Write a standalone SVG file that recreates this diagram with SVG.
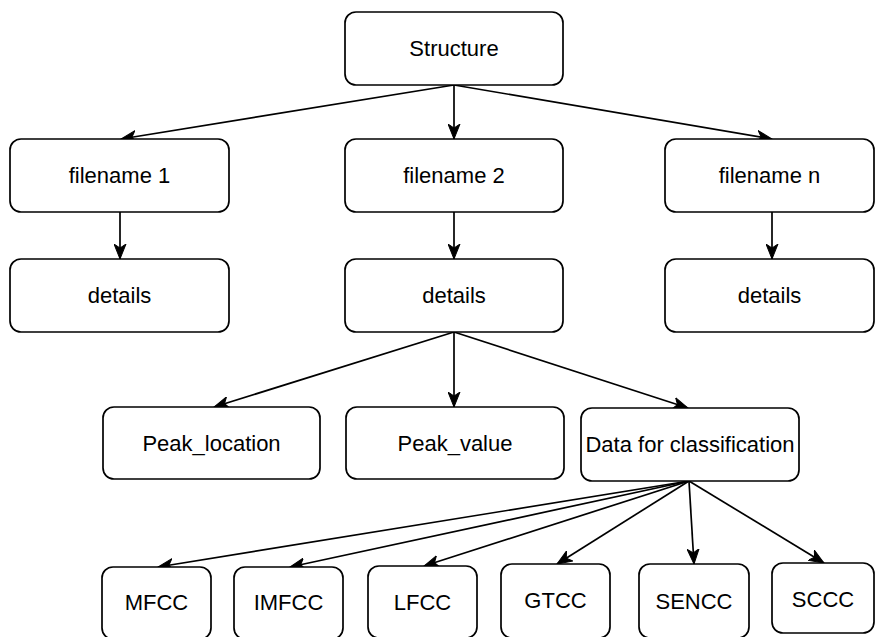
<svg xmlns="http://www.w3.org/2000/svg" width="875" height="637" viewBox="0 0 875 637">
<style>
.box{fill:#fff;stroke:#000;stroke-width:1.7}
.lbl{font-family:"Liberation Sans",Arial,sans-serif;font-size:22px;fill:#000;text-anchor:middle;dominant-baseline:central}
.edge{fill:none;stroke:#000;stroke-width:1.7;marker-end:url(#arr)}
</style>
<defs>
<marker id="arr" markerUnits="userSpaceOnUse" markerWidth="16" markerHeight="13" refX="15" refY="6.5" orient="auto">
<path d="M0,0.5 L15,6.5 L0,12.5 L4,6.5 Z" fill="#000" stroke="#000" stroke-width="1"/>
</marker>
</defs>
<rect width="875" height="637" fill="#fff"/>
<g id="connectors">
<line class="edge" x1="454" y1="85" x2="121" y2="139"/>
<line class="edge" x1="454" y1="85" x2="454" y2="139"/>
<line class="edge" x1="454" y1="85" x2="772" y2="139"/>
<line class="edge" x1="120" y1="212" x2="120" y2="259"/>
<line class="edge" x1="454" y1="212" x2="454" y2="259"/>
<line class="edge" x1="772" y1="212" x2="772" y2="259"/>
<line class="edge" x1="454" y1="332" x2="214" y2="407"/>
<line class="edge" x1="454" y1="332" x2="454" y2="407"/>
<line class="edge" x1="454" y1="332" x2="688" y2="408"/>
<line class="edge" x1="689" y1="481" x2="158" y2="567"/>
<line class="edge" x1="689" y1="481" x2="290" y2="567"/>
<line class="edge" x1="689" y1="481" x2="424" y2="566"/>
<line class="edge" x1="689" y1="481" x2="557" y2="564"/>
<line class="edge" x1="689" y1="481" x2="694" y2="564"/>
<line class="edge" x1="689" y1="481" x2="824" y2="563"/>
</g>
<g id="structure"><rect class="box" x="345" y="12" width="218" height="73" rx="11"/><text class="lbl" x="454" y="48.5">Structure</text></g>
<g id="filename1"><rect class="box" x="10" y="139" width="219" height="73" rx="11"/><text class="lbl" x="119.5" y="175.5">filename 1</text></g>
<g id="filename2"><rect class="box" x="345" y="139" width="218" height="73" rx="11"/><text class="lbl" x="454" y="175.5">filename 2</text></g>
<g id="filenamen"><rect class="box" x="665" y="139" width="209" height="73" rx="11"/><text class="lbl" x="769.5" y="175.5">filename n</text></g>
<g id="details1"><rect class="box" x="10" y="259" width="219" height="73" rx="11"/><text class="lbl" x="119.5" y="295.5">details</text></g>
<g id="details2"><rect class="box" x="345" y="259" width="218" height="73" rx="11"/><text class="lbl" x="454" y="295.5">details</text></g>
<g id="detailsn"><rect class="box" x="665" y="259" width="209" height="73" rx="11"/><text class="lbl" x="769.5" y="295.5">details</text></g>
<g id="peak_location"><rect class="box" x="103" y="407" width="217" height="72" rx="11"/><text class="lbl" x="211.5" y="443">Peak_location</text></g>
<g id="peak_value"><rect class="box" x="346" y="407" width="218" height="72" rx="11"/><text class="lbl" x="455" y="443">Peak_value</text></g>
<g id="data"><rect class="box" x="581" y="408" width="218" height="73" rx="11"/><text class="lbl" x="690" y="444.5">Data for classification</text></g>
<g id="mfcc"><rect class="box" x="102" y="567" width="109" height="72" rx="11"/><text class="lbl" x="156.5" y="602.5">MFCC</text></g>
<g id="imfcc"><rect class="box" x="234" y="567" width="109" height="72" rx="11"/><text class="lbl" x="288.5" y="602.5">IMFCC</text></g>
<g id="lfcc"><rect class="box" x="368" y="566" width="109" height="72" rx="11"/><text class="lbl" x="422.5" y="602">LFCC</text></g>
<g id="gtcc"><rect class="box" x="501" y="564" width="109" height="74" rx="11"/><text class="lbl" x="555.5" y="600.5">GTCC</text></g>
<g id="sencc"><rect class="box" x="639" y="564" width="110" height="74" rx="11"/><text class="lbl" x="694" y="601">SENCC</text></g>
<g id="sccc"><rect class="box" x="772" y="563" width="102" height="70" rx="11"/><text class="lbl" x="823" y="599.5">SCCC</text></g>
</svg>
